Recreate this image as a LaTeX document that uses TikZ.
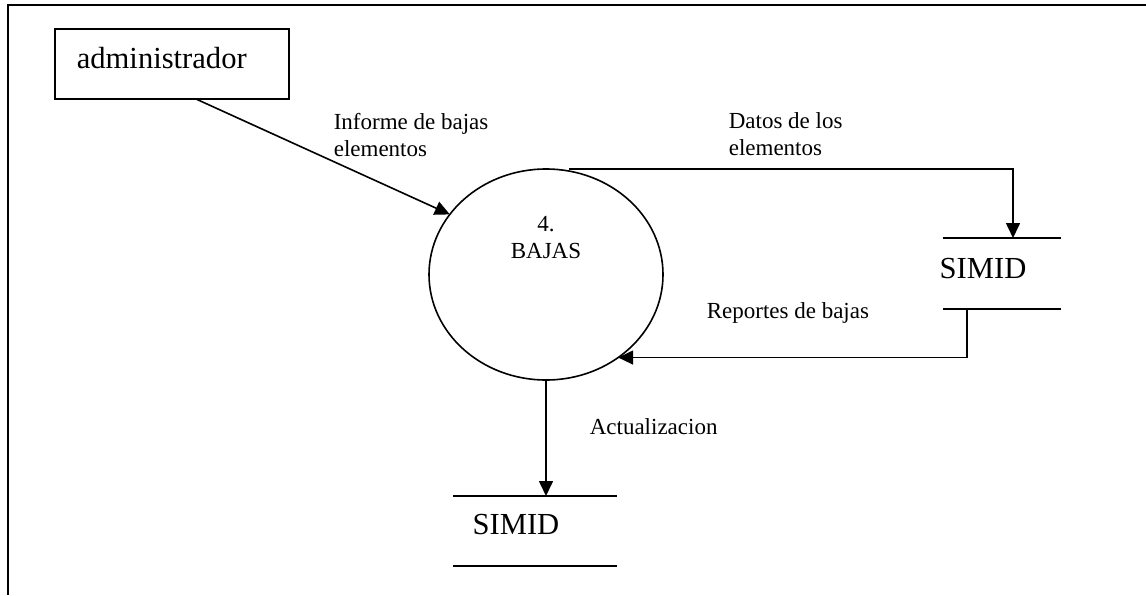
\documentclass[tikz,border=0pt]{standalone}
\usepackage{fontspec}
\setmainfont{Liberation Serif}
\usetikzlibrary{shapes.geometric,arrows.meta}

\tikzset{
	every picture/.append style={x=0.5pt,y=-0.5pt,line width=0.8pt},
	myentity/.style = {rectangle, draw=black, minimum width=117pt, minimum height=35pt, outer sep=0pt},
	myproc/.style = {ellipse, draw=black, minimum width=117pt, minimum height=105.5pt, inner sep=0pt, outer sep=0pt},
	mystore/.style = {rectangle, inner sep=0pt, outer sep=0pt},
	bigtxt/.style = {inner sep=0pt, font=\fontsize{15.3}{18}\selectfont},
	smalltxt/.style = {inner sep=0pt, align=left, font=\fontsize{11.5}{13.5}\selectfont},
	myedge/.style = {draw=black, -{Triangle[length=7.5pt,width=7pt]}},
	myframe/.style = {draw=black, line width=1.2pt}
}

\begin{document}
\begin{tikzpicture}
				\useasboundingbox (0,0) rectangle (1146,595);
				\draw[myframe] (1146,5) -- (8,5) -- (8,595);
				% nodes
				\node[myentity] at (172,64) (admin) {};
				\node[bigtxt, anchor=base west] at (76,68) (admintxt) {administrador};
				\node[myproc] at (546,274.5) (bajas) {};
				\node[smalltxt, align=center] at (546,238) (bajastxt) {4.\\BAJAS};
				\node[mystore, minimum width=59pt, minimum height=35.5pt] at (1002,273.5) (simidr) {};
				\node[bigtxt, anchor=base] at (983,278) (simidrtxt) {SIMID};
				\node[mystore, minimum width=82pt, minimum height=35pt] at (535,531) (simidb) {};
				\node[bigtxt, anchor=base] at (516,534) (simidbtxt) {SIMID};
				\draw (simidr.north west) -- (simidr.north east);
				\draw (simidr.south west) -- (simidr.south east);
				\draw (simidb.north west) -- (simidb.north east);
				\draw (simidb.south west) -- (simidb.south east);
				% flows
				\path ([xshift=12pt]admin.south) edge [myedge] (bajas.148);
				\draw[myedge] ([xshift=11.5pt]bajas.north) -| ([xshift=5.5pt]simidr.north);
				\draw[myedge] ([xshift=-17.5pt]simidr.south) |- (bajas.-49);
				\path (bajas.south) edge [myedge] (bajas.south |- simidb.north);
				% labels
				\node[smalltxt, anchor=base west] at (333,156) (l1) {Informe de bajas\\elementos};
				\node[smalltxt, anchor=base west] at (728,155) (l2) {Datos de los\\elementos};
				\node[smalltxt, anchor=base west] at (706,318) (l3) {Reportes de bajas};
				\node[smalltxt, anchor=base west] at (589,434) (l4) {Actualizacion};
			\end{tikzpicture}
\end{document}
